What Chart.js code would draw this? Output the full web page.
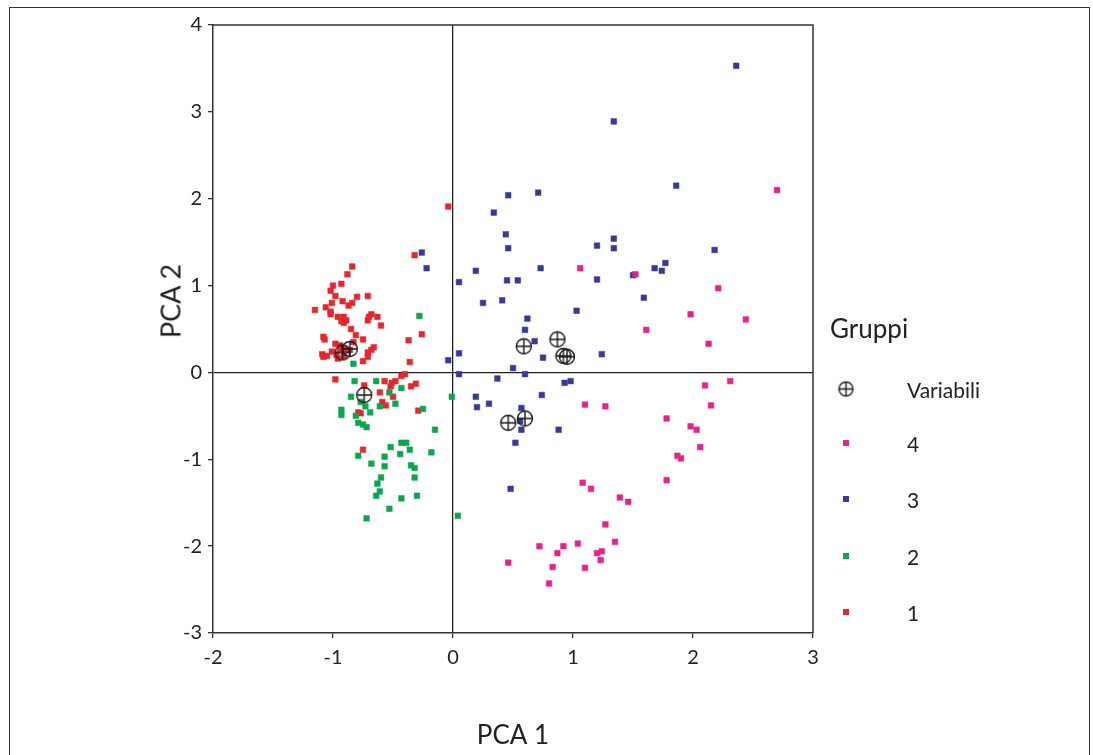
<!DOCTYPE html>
<html>
<head>
<meta charset="utf-8">
<script src="https://cdn.jsdelivr.net/npm/chart.js@4.4.1/dist/chart.umd.min.js"></script>
<style>
  html, body { margin: 0; padding: 0; background: #fff; overflow: hidden; }
  #wrap { position: relative; width: 1093px; height: 755px; font-family: Lato, "Liberation Sans", sans-serif; color: #222; }
  #frame { position: absolute; left: 9px; top: 7px; width: 1081px; height: 800px; border: 1.5px solid #333; box-sizing: border-box; }
  #chart { position: absolute; left: 0; top: 0; }
  #yTitle { position: absolute; left: 170px; top: 301px; transform: translate(-50%, -50%) rotate(-90deg); font-size: 27px; white-space: nowrap; }
  #legend .title { position: absolute; left: 830px; top: 328px; transform: translateY(-50%); font-size: 26px; }
  .lg-item { position: absolute; left: 0; height: 0; }
  .lg-sym { position: absolute; left: 846px; transform: translate(-50%, -50%); }
  .lg-text { position: absolute; left: 907px; transform: translateY(-50%); font-size: 21px; white-space: nowrap; }
</style>
</head>
<body>
<div id="wrap">
  <div id="frame"></div>
  <canvas id="chart" width="1093" height="755"></canvas>
  <div id="yTitle">PCA 2</div>
  <div id="legend"><div class="title">Gruppi</div></div>
</div>
<script>
const xTicks = [-2, -1, 0, 1, 2, 3];
const yTicks = [-3, -2, -1, 0, 1, 2, 3, 4];
const legendLabels = ["Variabili", "4", "3", "2", "1"];
const legendRows = [389, 443, 499, 556, 612];
const groupColors = { "1": "#e8262d", "2": "#0ca64e", "3": "#373b97", "4": "#e8228d" };

// coordinates on PCA 1 / PCA 2
const variabili = [
  [-0.92, 0.23], [-0.86, 0.27], [-0.74, -0.26], [0.59, 0.30], [0.87, 0.38],
  [0.92, 0.19], [0.95, 0.18], [0.46, -0.58], [0.60, -0.53]
];

const gruppo1 = [
  [-0.32, 1.35], [-0.84, 1.22], [-0.88, 1.13], [-1.00, 1.00], [-0.93, 1.02], [-1.02, 0.94],
  [-0.98, 0.88], [-0.80, 0.87], [-0.71, 0.88], [-1.01, 0.80], [-0.92, 0.82], [-0.84, 0.80],
  [-0.87, 0.77], [-1.15, 0.72], [-1.06, 0.75], [-1.02, 0.70], [-1.02, 0.67], [-0.96, 0.64],
  [-0.91, 0.64], [-0.93, 0.59], [-0.89, 0.60], [-0.91, 0.57], [-0.68, 0.67], [-0.70, 0.64],
  [-0.71, 0.60], [-0.63, 0.64], [-0.60, 0.54], [-0.85, 0.50], [-0.81, 0.43], [-0.26, 0.44],
  [-0.37, 0.37], [-1.08, 0.41], [-1.07, 0.38], [-0.75, 0.38], [-0.98, 0.33], [-0.94, 0.31],
  [-0.83, 0.35], [-0.94, 0.27], [-0.90, 0.27], [-0.68, 0.26], [-0.66, 0.29], [-0.71, 0.23],
  [-0.71, 0.18], [-0.75, 0.13], [-1.09, 0.21], [-1.08, 0.18], [-1.05, 0.19], [-1.01, 0.24],
  [-0.97, 0.20], [-0.96, 0.16], [-0.91, 0.19], [-0.86, 0.26], [-0.36, 0.12], [-0.04, 1.91],
  [-0.98, -0.08], [-0.57, -0.10], [-0.51, -0.12], [-0.48, -0.10], [-0.43, -0.04], [-0.40, -0.02],
  [-0.52, -0.16], [-0.35, -0.16], [-0.31, -0.13], [-0.74, -0.15], [-0.61, -0.23], [-0.50, -0.28],
  [-0.59, -0.34], [-0.56, -0.38], [-0.77, -0.47], [-0.29, -0.44], [-0.75, -0.89], [-0.79, -0.46]
];

const gruppo2 = [
  [-0.28, 0.65], [-0.83, 0.10], [-0.82, -0.10], [-0.64, -0.10], [-0.43, -0.18], [-0.85, -0.28],
  [-0.53, -0.23], [-0.61, -0.39], [-0.48, -0.36], [-0.77, -0.34], [-0.73, -0.39], [-0.69, -0.46],
  [-0.25, -0.42], [-0.93, -0.43], [-0.93, -0.49], [-0.81, -0.50], [-0.79, -0.58], [-0.75, -0.60],
  [-0.72, -0.63], [-0.01, -0.28], [-0.15, -0.66], [-0.43, -0.81], [-0.39, -0.81], [-0.52, -0.86],
  [-0.36, -0.89], [-0.44, -0.94], [-0.18, -0.92], [-0.79, -0.96], [-0.57, -0.97], [-0.68, -1.05],
  [-0.57, -1.08], [-0.35, -1.07], [-0.32, -1.10], [-0.60, -1.21], [-0.32, -1.21], [-0.63, -1.28],
  [-0.61, -1.37], [-0.64, -1.42], [-0.43, -1.45], [-0.30, -1.42], [-0.53, -1.57], [-0.72, -1.68],
  [0.04, -1.65]
];

const gruppo3 = [
  [-0.26, 1.38], [-0.22, 1.20], [0.19, 1.17], [0.05, 1.04], [-0.04, 0.14], [0.05, 0.22],
  [0.05, -0.02], [0.19, -0.28], [0.20, -0.40], [0.46, 2.04], [0.71, 2.07], [0.34, 1.84],
  [0.44, 1.59], [0.46, 1.43], [1.20, 1.46], [1.34, 1.54], [1.34, 1.43], [0.73, 1.20],
  [0.45, 1.06], [0.54, 1.06], [1.20, 1.07], [0.25, 0.80], [0.41, 0.83], [1.03, 0.71],
  [0.62, 0.62], [0.60, 0.49], [0.68, 0.36], [0.75, 0.17], [1.24, 0.21], [0.50, 0.05],
  [2.36, 3.53], [1.34, 2.89], [1.86, 2.15], [2.18, 1.41], [1.77, 1.26], [1.68, 1.20],
  [1.74, 1.17], [1.50, 1.12], [1.59, 0.86], [0.60, -0.02], [0.37, -0.07], [0.93, -0.12],
  [0.98, -0.10], [0.30, -0.36], [0.74, -0.26], [0.57, -0.41], [0.56, -0.56], [0.57, -0.66],
  [0.88, -0.66], [0.52, -0.81], [0.48, -1.34]
];

const gruppo4 = [
  [1.06, 1.20], [2.70, 2.10], [1.52, 1.13], [2.21, 0.97], [1.98, 0.67], [2.44, 0.61],
  [1.61, 0.49], [2.13, 0.33], [2.31, -0.10], [2.10, -0.15], [2.15, -0.38], [1.78, -0.53],
  [1.98, -0.62], [2.03, -0.66], [2.06, -0.86], [1.87, -0.96], [1.90, -0.99], [1.78, -1.24],
  [1.10, -0.37], [1.27, -0.39], [1.08, -1.27], [1.15, -1.34], [1.39, -1.44], [1.46, -1.49],
  [1.27, -1.75], [0.72, -2.00], [0.92, -2.00], [1.04, -1.97], [1.35, -1.95], [0.87, -2.08],
  [1.20, -2.08], [1.24, -2.06], [1.23, -2.16], [0.46, -2.19], [0.83, -2.24], [1.10, -2.25],
  [0.80, -2.43]
];

function makeCrossCircle(size) {
  const c = document.createElement("canvas");
  c.width = size;
  c.height = size;
  const g = c.getContext("2d");
  const m = size / 2;
  const r = m - 1.5;
  g.strokeStyle = "#1a1a1a";
  g.lineWidth = 1.4;
  g.beginPath();
  g.arc(m, m, r, 0, Math.PI * 2);
  g.stroke();
  g.beginPath();
  g.moveTo(m - r, m); g.lineTo(m + r, m);
  g.moveTo(m, m - r); g.lineTo(m, m + r);
  g.stroke();
  return c;
}

const crossCircle = makeCrossCircle(18);

function groupDataset(label, pts) {
  const color = groupColors[label];
  return {
    label,
    data: pts.map(([x, y]) => ({ x, y })),
    backgroundColor: color,
    borderColor: color + "80",
    borderWidth: 1,
    pointStyle: "rect",
    pointRadius: 4,
    pointHoverRadius: 4
  };
}

const boxPlugin = {
  id: "box",
  beforeDatasetsDraw(chart) {
    const { ctx, chartArea: a } = chart;
    ctx.save();
    ctx.strokeStyle = "#333";
    ctx.lineWidth = 1.5;
    ctx.beginPath();
    ctx.moveTo(a.left, a.top);
    ctx.lineTo(a.right, a.top);
    ctx.lineTo(a.right, a.bottom);
    ctx.stroke();
    ctx.restore();
  }
};

const tickFont = { family: "Lato, 'Liberation Sans', sans-serif", size: 20 };
const zeroLine = (c) => (c.tick && c.tick.value === 0 ? "#222" : "rgba(0,0,0,0)");

new Chart(document.getElementById("chart"), {
  type: "scatter",
  data: {
    datasets: [
      {
        label: "Variabili",
        data: variabili.map(([x, y]) => ({ x, y })),
        pointStyle: crossCircle,
        pointRadius: 9,
        pointHoverRadius: 9
      },
      groupDataset("4", gruppo4),
      groupDataset("3", gruppo3),
      groupDataset("2", gruppo2),
      groupDataset("1", gruppo1)
    ]
  },
  options: {
    responsive: false,
    animation: false,
    layout: { padding: { left: 0, top: 25, right: 280, bottom: 0 } },
    plugins: { legend: { display: false }, tooltip: { enabled: false } },
    scales: {
      x: {
        type: "linear",
        min: -2,
        max: 3,
        afterBuildTicks: (s) => { s.ticks = xTicks.map((v) => ({ value: v })); },
        afterFit: (s) => { s.height = 122; },
        ticks: { font: tickFont, color: "#222", padding: 8 },
        grid: { color: zeroLine, lineWidth: 1.3, tickColor: "#333", tickLength: 5 },
        border: { color: "#333", width: 1.5 },
        title: { display: true, text: "PCA 1", font: { family: tickFont.family, size: 26 }, color: "#222", padding: { top: 0, bottom: 4 } }
      },
      y: {
        type: "linear",
        min: -3,
        max: 4,
        afterBuildTicks: (s) => { s.ticks = yTicks.map((v) => ({ value: v })); },
        afterFit: (s) => { s.width = 213; },
        ticks: { font: tickFont, color: "#222", padding: 6 },
        grid: { color: zeroLine, lineWidth: 1.3, tickColor: "#333", tickLength: 5 },
        border: { color: "#333", width: 1.5 }
      }
    }
  },
  plugins: [boxPlugin]
});

// legend on the right
const legendEl = document.getElementById("legend");
legendLabels.forEach((label, i) => {
  const item = document.createElement("div");
  item.className = "lg-item";
  item.style.top = legendRows[i] + "px";
  let sym;
  if (label === "Variabili") {
    sym = makeCrossCircle(17);
  } else {
    sym = document.createElement("span");
    sym.style.display = "block";
    sym.style.width = "6px";
    sym.style.height = "6px";
    sym.style.background = groupColors[label];
  }
  sym.classList.add("lg-sym");
  const text = document.createElement("span");
  text.className = "lg-text";
  text.textContent = label;
  item.appendChild(sym);
  item.appendChild(text);
  legendEl.appendChild(item);
});
</script>
</body>
</html>
